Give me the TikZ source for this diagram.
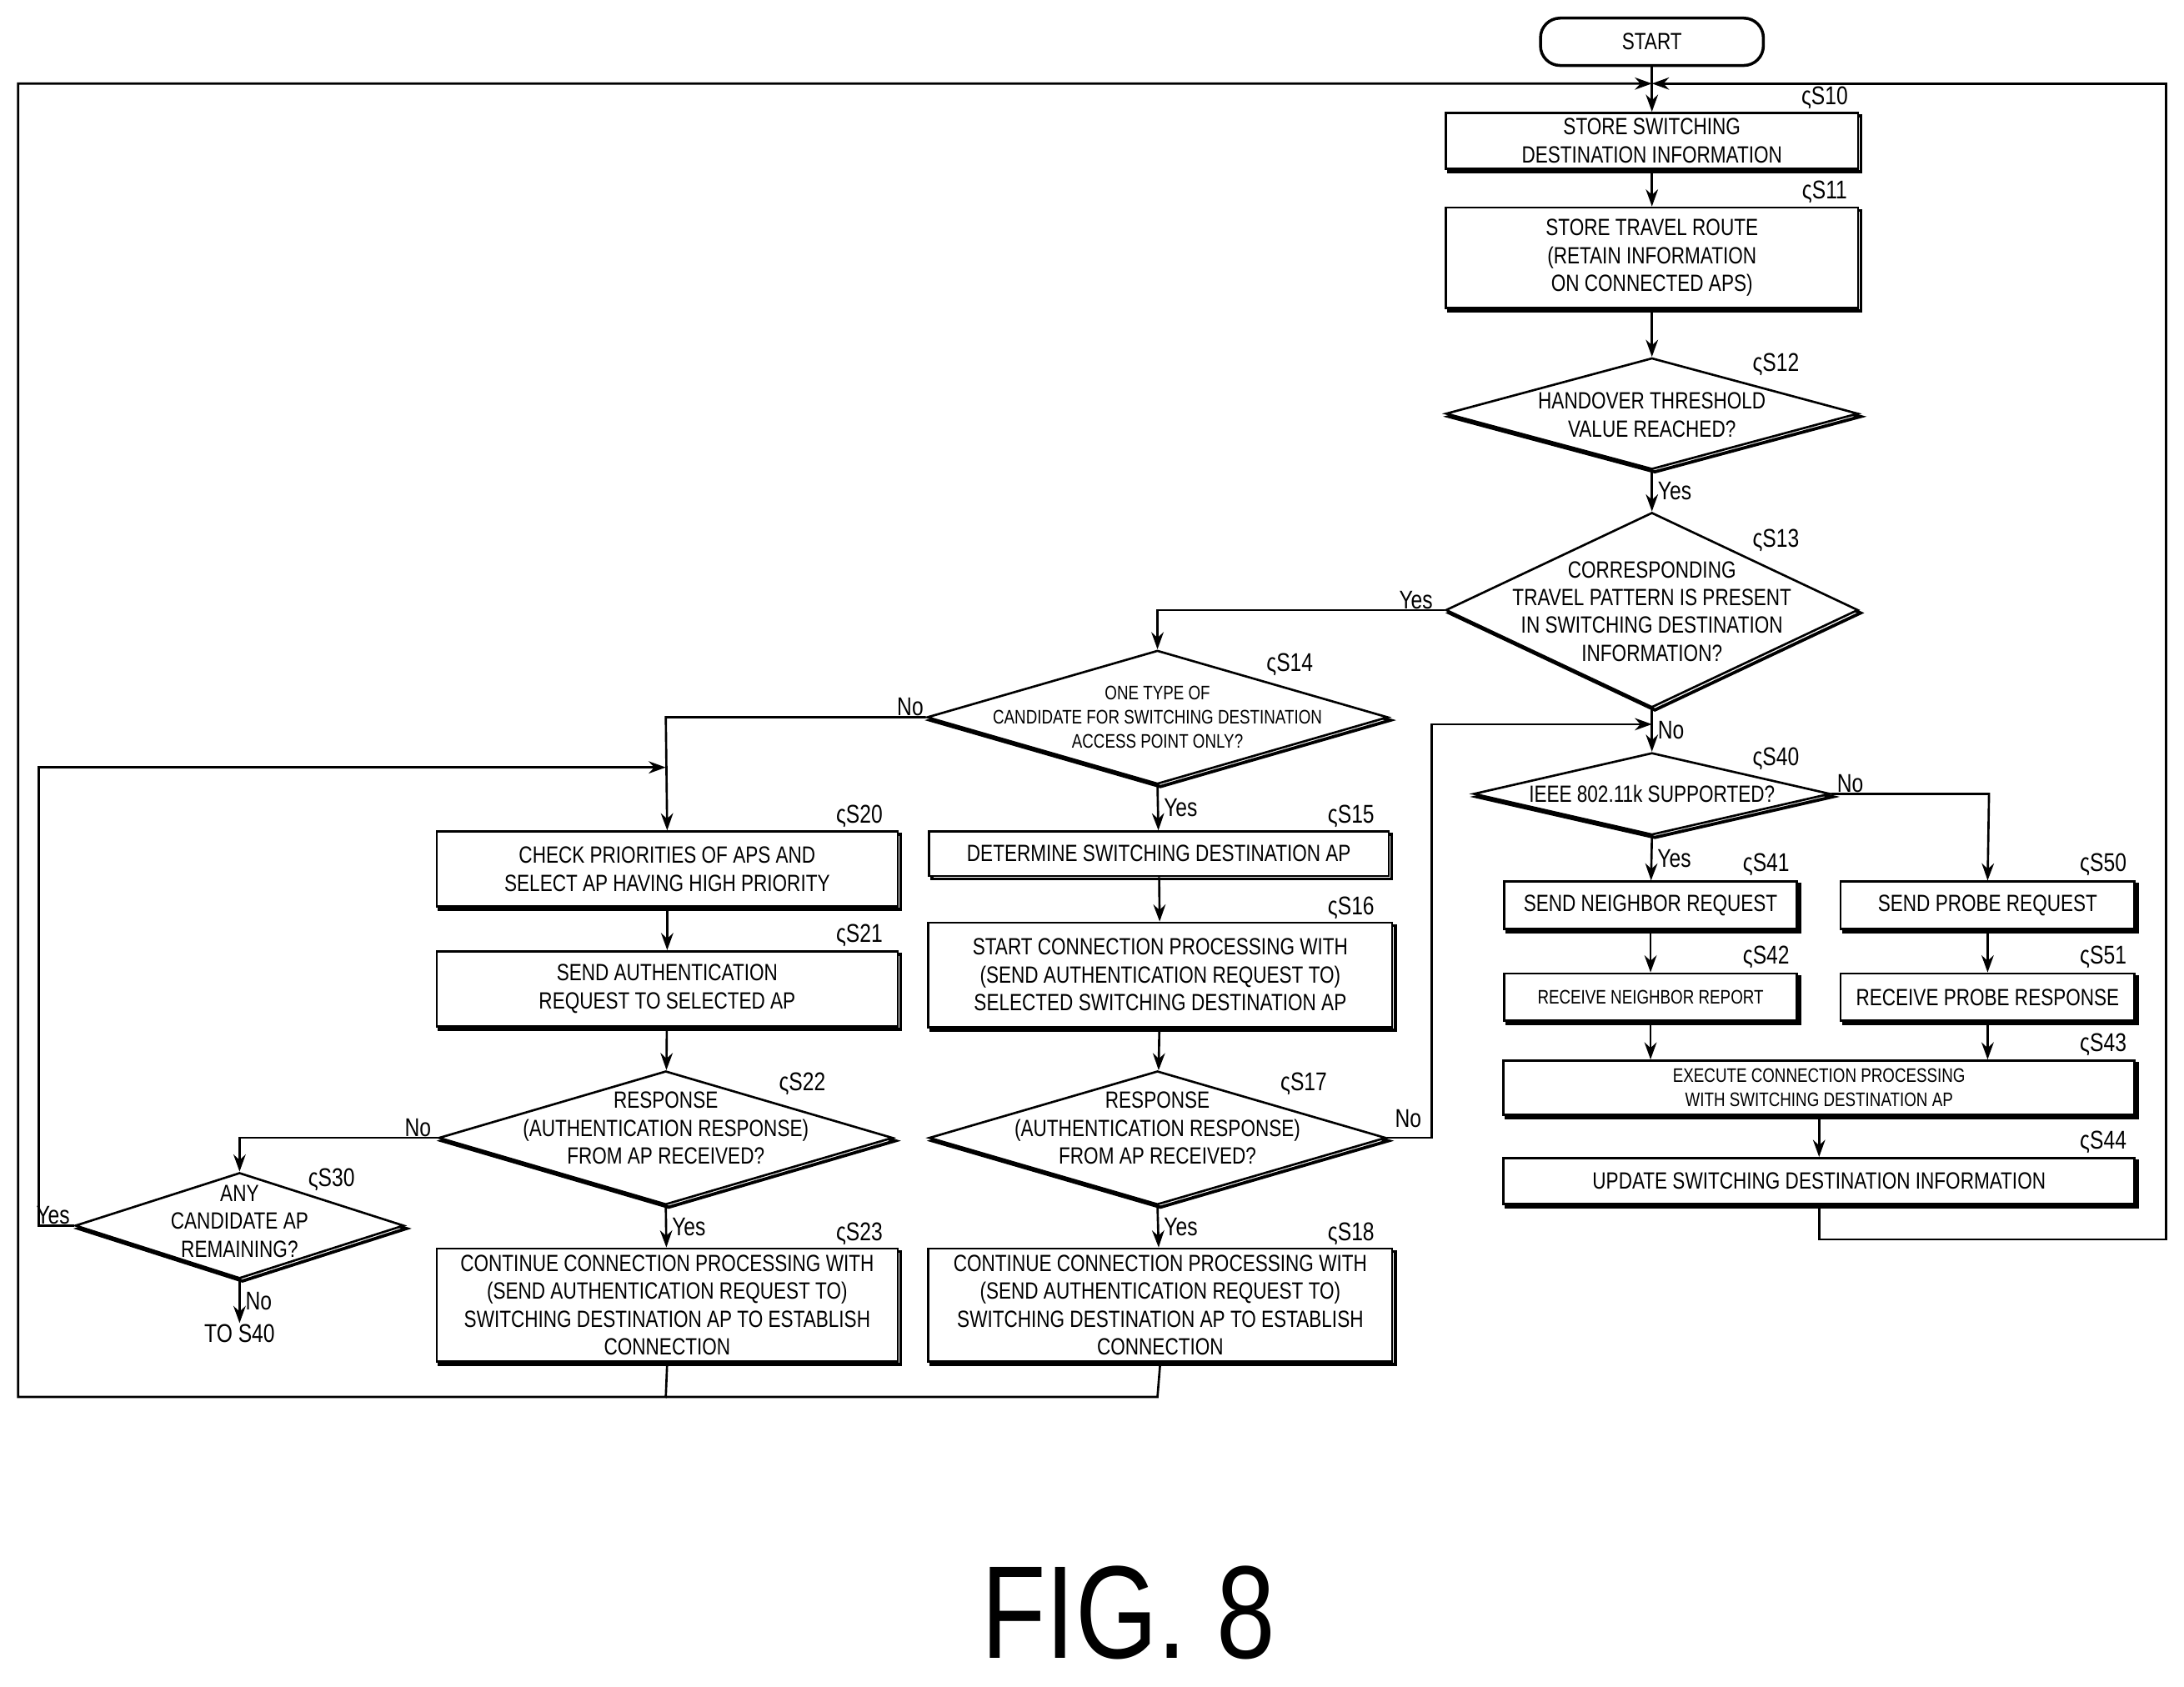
\documentclass[tikz,border=0pt]{standalone}
\usepackage{fontspec}
\setmainfont{Liberation Sans}[FakeStretch=0.8]
\usetikzlibrary{shapes.geometric,arrows.meta}
\begin{document}
\fontsize{9.6}{11.4}\selectfont
\begin{tikzpicture}[x=0.02cm,y=-0.02cm,line width=0.9pt,
  sh/.style={preaction={draw,line width=1.3pt,transform canvas={xshift=1.2pt,yshift=-1.2pt}}},
  box/.style 2 args={draw,fill=white,sh,minimum width=#1*0.02cm,minimum height=#2*0.02cm,align=center,inner sep=0pt},
  dia/.style 2 args={draw,fill=white,sh,diamond,minimum width=#1*0.02cm,minimum height=#2*0.02cm,inner sep=0pt},
  txt/.style={align=center,inner sep=0pt},
  small/.style={font=\fontsize{8}{10}\selectfont},
  lab/.style={inner sep=0pt,font=\fontsize{10.5}{12}\selectfont},
  arr/.style={-{Stealth[length=7pt,width=5pt]}}]
\useasboundingbox (0,0) rectangle (1568,1211);
% outer loop
\coordinate (tl) at (13,60); \coordinate (tr) at (1555,60); \coordinate (tm) at (1186,60);
\coordinate (bl) at (13,1003); \coordinate (br) at (1555,890);
\node[draw,rounded corners=8pt,minimum width=160*0.02cm,minimum height=34*0.02cm,line width=1.2pt] (start) at (1186,30) {START};
\node[box={296}{40}] (s10) at (1186,101) {STORE SWITCHING\\DESTINATION INFORMATION};
\node[box={296}{72}] (s11) at (1186,185) {STORE TRAVEL ROUTE\\(RETAIN INFORMATION\\ON CONNECTED APS)};
\node[dia={296}{80}] (s12) at (1186,297) {};
\node[txt] at (1186,298) {HANDOVER THRESHOLD\\VALUE REACHED?};
\node[dia={296}{140}] (s13) at (1186,438) {};
\node[txt] at (1186,439) {CORRESPONDING\\TRAVEL PATTERN IS PRESENT\\IN SWITCHING DESTINATION\\INFORMATION?};
\node[dia={331}{96}] (s14) at (831,515) {};
\node[txt,small] at (831,515) {ONE TYPE OF\\CANDIDATE FOR SWITCHING DESTINATION\\ACCESS POINT ONLY?};
\node[box={330}{32}] (s15) at (832,613) {DETERMINE SWITCHING DESTINATION AP};
\node[box={333}{75}] (s16) at (833,700) {START CONNECTION PROCESSING WITH\\(SEND AUTHENTICATION REQUEST TO)\\SELECTED SWITCHING DESTINATION AP};
\node[dia={328}{96}] (s17) at (831,817) {};
\node[txt] at (831,810) {RESPONSE\\(AUTHENTICATION RESPONSE)\\FROM AP RECEIVED?};
\node[box={333}{81}] (s18) at (833,937) {CONTINUE CONNECTION PROCESSING WITH\\(SEND AUTHENTICATION REQUEST TO)\\SWITCHING DESTINATION AP TO ESTABLISH\\CONNECTION};
\node[box={331}{54}] (s20) at (479,624) {CHECK PRIORITIES OF APS AND\\SELECT AP HAVING HIGH PRIORITY};
\node[box={331}{54}] (s21) at (479,710) {SEND AUTHENTICATION\\REQUEST TO SELECTED AP};
\node[dia={326}{96}] (s22) at (478,817) {};
\node[txt] at (478,810) {RESPONSE\\(AUTHENTICATION RESPONSE)\\FROM AP RECEIVED?};
\node[box={331}{81}] (s23) at (479,937) {CONTINUE CONNECTION PROCESSING WITH\\(SEND AUTHENTICATION REQUEST TO)\\SWITCHING DESTINATION AP TO ESTABLISH\\CONNECTION};
\node[dia={236}{76}] (s30) at (172,880) {};
\node[txt] at (172,877) {ANY\\CANDIDATE AP\\REMAINING?};
\node[dia={256}{59}] (s40) at (1186,570) {};
\node[txt] at (1186,570) {IEEE 802.11k SUPPORTED?};
\node[box={210}{34}] (s41) at (1185,650) {SEND NEIGHBOR REQUEST};
\node[box={210}{34},small] (s42) at (1185,716) {RECEIVE NEIGHBOR REPORT};
\node[box={211}{34}] (s50) at (1427,650) {SEND PROBE REQUEST};
\node[box={211}{34}] (s51) at (1427,716) {RECEIVE PROBE RESPONSE};
\node[box={453}{39},small] (s43) at (1306,781) {EXECUTE CONNECTION PROCESSING\\WITH SWITCHING DESTINATION AP};
\node[box={453}{33}] (s44) at (1306,848) {UPDATE SWITCHING DESTINATION INFORMATION};
% step labels
\foreach \t/\x/\y in {S10/1310/70,S11/1310/138,S12/1275/262,S13/1275/388,S14/926/477,S15/970/586,S16/970/652,S17/936/778,S18/970/886,S20/617/586,S21/617/672,S22/576/778,S23/617/886,S30/238/847,S40/1275/545,S41/1268/621,S42/1268/687,S50/1510/621,S51/1510/687,S43/1510/750,S44/1510/820}
  \node[lab] at (\x,\y) {ς\t};
% connectors
\draw[arr] (start) -- (s10);
\draw[arr] (s10) -- (s11);
\draw[arr] (s11) -- (s12);
\draw[arr] (s12) -- node[right,lab,xshift=2pt]{Yes} (s13);
\draw[arr] (s13.west) -- node[above,lab,pos=0.1]{Yes} (831,438) -- (s14.north);
\draw[arr] (s13.south) -- node[right,lab,xshift=2pt]{No} (s40.north);
\draw[arr] (s14.west) -- node[above,lab,pos=0.06]{No} (478,515) -- (s20.north);
\draw[arr] (s14.south) -- node[right,lab,xshift=2pt]{Yes} (s15);
\draw[arr] (s15) -- (s16);
\draw[arr] (s16) -- (s17);
\draw[arr] (s17.south) -- node[right,lab,xshift=2pt]{Yes} (s18);
\draw[arr] (s17.east) -- (1028,817) -- (1028,520) -- (1186,520);
\node[lab] at (1011,803) {No};
\draw[arr] (s20) -- (s21);
\draw[arr] (s21) -- (s22);
\draw[arr] (s22.south) -- node[right,lab,xshift=2pt]{Yes} (s23);
\draw[arr] (s22.west) -- node[above,lab,pos=0.1]{No} (172,817) -- (s30.north);
\draw[arr] (s30.west) -- node[above,lab,pos=0.6]{Yes} (28,880) -- (28,551) -- (478,551);
\coordinate (to40) at (172,950);
\draw[arr] (s30.south) -- node[right,lab,xshift=2pt]{No} (to40);
\node[lab,below] at (to40) {TO S40};
\draw[arr] (s40.east) -- node[above,lab,pos=0.12]{No} (1428,570) -- (s50.north);
\draw[arr] (s40.south) -- node[right,lab,xshift=2pt]{Yes} (s41);
\draw[arr] (s41) -- (s42);
\draw[arr] (s50) -- (s51);
\draw[arr] (s42.south) -- (s42.south |- s43.north);
\draw[arr] (s51.south) -- (s51.south |- s43.north);
\draw[arr] (s43) -- (s44);
\draw[arr] (s44.south) -- (1306,890) -- (br) -- (tr) -- (tm);
\draw[arr] (s23.south) -- (478,1003) -- (bl) -- (tl) -- (tm);
\draw (s18.south) -- (831,1003) -- (478,1003);
\node[inner sep=0pt,font=\fontsize{54}{60}\selectfont] at (810,1158) {FIG. 8};
\end{tikzpicture}
\end{document}
